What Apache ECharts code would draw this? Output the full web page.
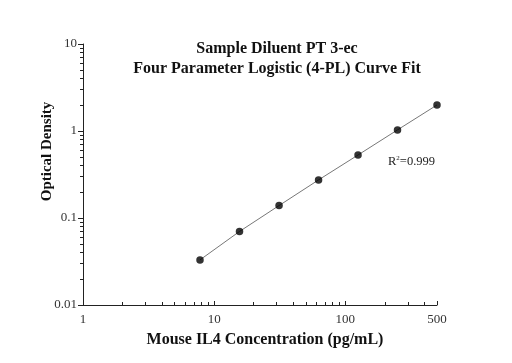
<!DOCTYPE html>
<html><head><meta charset="utf-8">
<script src="https://cdn.jsdelivr.net/npm/echarts@6/dist/echarts.min.js"></script>
<style>html,body{margin:0;padding:0;background:#fff}#c{width:512px;height:363px}</style>
</head><body><div id="c"></div>
<script>
const concentrations = [7.8, 15.6, 31.25, 62.5, 125, 250, 500];
const odValues = [0.033, 0.070, 0.139, 0.274, 0.53, 1.03, 1.99];
const xMajorTicks = [1, 10, 100, 500];
const xMinorTicks = [2,3,4,5,6,7,8,9,20,30,40,50,60,70,80,90,200,300,400];
const yMajorTicks = [0.01, 0.1, 1, 10];
const yMinorTicks = [0.02,0.03,0.04,0.05,0.06,0.07,0.08,0.09,0.2,0.3,0.4,0.5,0.6,0.7,0.8,0.9,2,3,4,5,6,7,8,9];
const titleLines = ['Sample Diluent PT 3-ec', 'Four Parameter Logistic (4-PL) Curve Fit'];
const xName = 'Mouse IL4 Concentration (pg/mL)';
const yName = 'Optical Density';
const r2Text = '0.999';

const serif = '"Liberation Serif","DejaVu Serif",serif';
const chart = echarts.init(document.getElementById('c'));
const pts = concentrations.map((c, i) => [c, odValues[i]]);
const axisCommon = {
  type: 'log', logBase: 10, splitLine: {show: false}
};
chart.setOption({
  animation: false,
  title: {
    text: titleLines.join('\n'), left: 272, top: 34, textAlign: 'center',
    textStyle: {fontFamily: serif, fontWeight: 'bold', fontSize: 16, color: '#111', lineHeight: 20}
  },
  grid: {left: 83, top: 44, right: 75, bottom: 58, containLabel: false},
  xAxis: [
    Object.assign({}, axisCommon, {
      min: 1, max: 500,
      name: xName, nameLocation: 'middle', nameGap: 27,
      nameTextStyle: {fontFamily: serif, fontWeight: 'bold', fontSize: 16, color: '#111', padding: [0, 0, 0, 10]},
      axisLine: {show: true, lineStyle: {color: '#222', width: 1}},
      axisTick: {show: true, inside: true, length: 4, customValues: xMajorTicks, lineStyle: {color: '#222'}},
      axisLabel: {customValues: xMajorTicks, fontFamily: serif, fontSize: 13, color: '#333', margin: 8}
    }),
    Object.assign({}, axisCommon, {
      min: 1, max: 500, position: 'bottom',
      axisLine: {show: false},
      axisTick: {show: true, inside: true, length: 3, customValues: xMinorTicks, lineStyle: {color: '#222'}},
      axisLabel: {show: false}
    })
  ],
  yAxis: [
    Object.assign({}, axisCommon, {
      min: 0.01, max: 10,
      name: yName, nameLocation: 'middle', nameGap: 28, nameRotate: 90, nameMoveOverlap: false,
      nameTextStyle: {fontFamily: serif, fontWeight: 'bold', fontSize: 15, color: '#111', padding: [0, 0, 0, 46]},
      axisLine: {show: true, lineStyle: {color: '#222', width: 1}},
      axisTick: {show: true, inside: false, length: 5, customValues: yMajorTicks, lineStyle: {color: '#222'}},
      axisLabel: {customValues: yMajorTicks, fontFamily: serif, fontSize: 13, color: '#333', margin: 6,
        formatter: v => String(v)}
    }),
    Object.assign({}, axisCommon, {
      min: 0.01, max: 10, position: 'left',
      axisLine: {show: false},
      axisTick: {show: true, inside: false, length: 3, customValues: yMinorTicks, lineStyle: {color: '#222'}},
      axisLabel: {show: false}
    })
  ],
  series: [
    {type: 'line', data: pts, showSymbol: false, lineStyle: {color: '#777', width: 1}, silent: true, z: 2},
    {type: 'scatter', data: pts, symbol: 'circle', symbolSize: 7.5, itemStyle: {color: '#000'}, z: 3}
  ],
  graphic: [{
    type: 'text', left: 388, top: 155,
    style: {
      text: '{r|R}{s|2}{r|=' + r2Text + '}',
      rich: {
        r: {fontFamily: serif, fontSize: 12.5, fill: '#222', verticalAlign: 'bottom'},
        s: {fontFamily: serif, fontSize: 7, fill: '#222', verticalAlign: 'top', padding: [0,0,6,0]}
      }
    }
  }]
});
</script></body></html>
